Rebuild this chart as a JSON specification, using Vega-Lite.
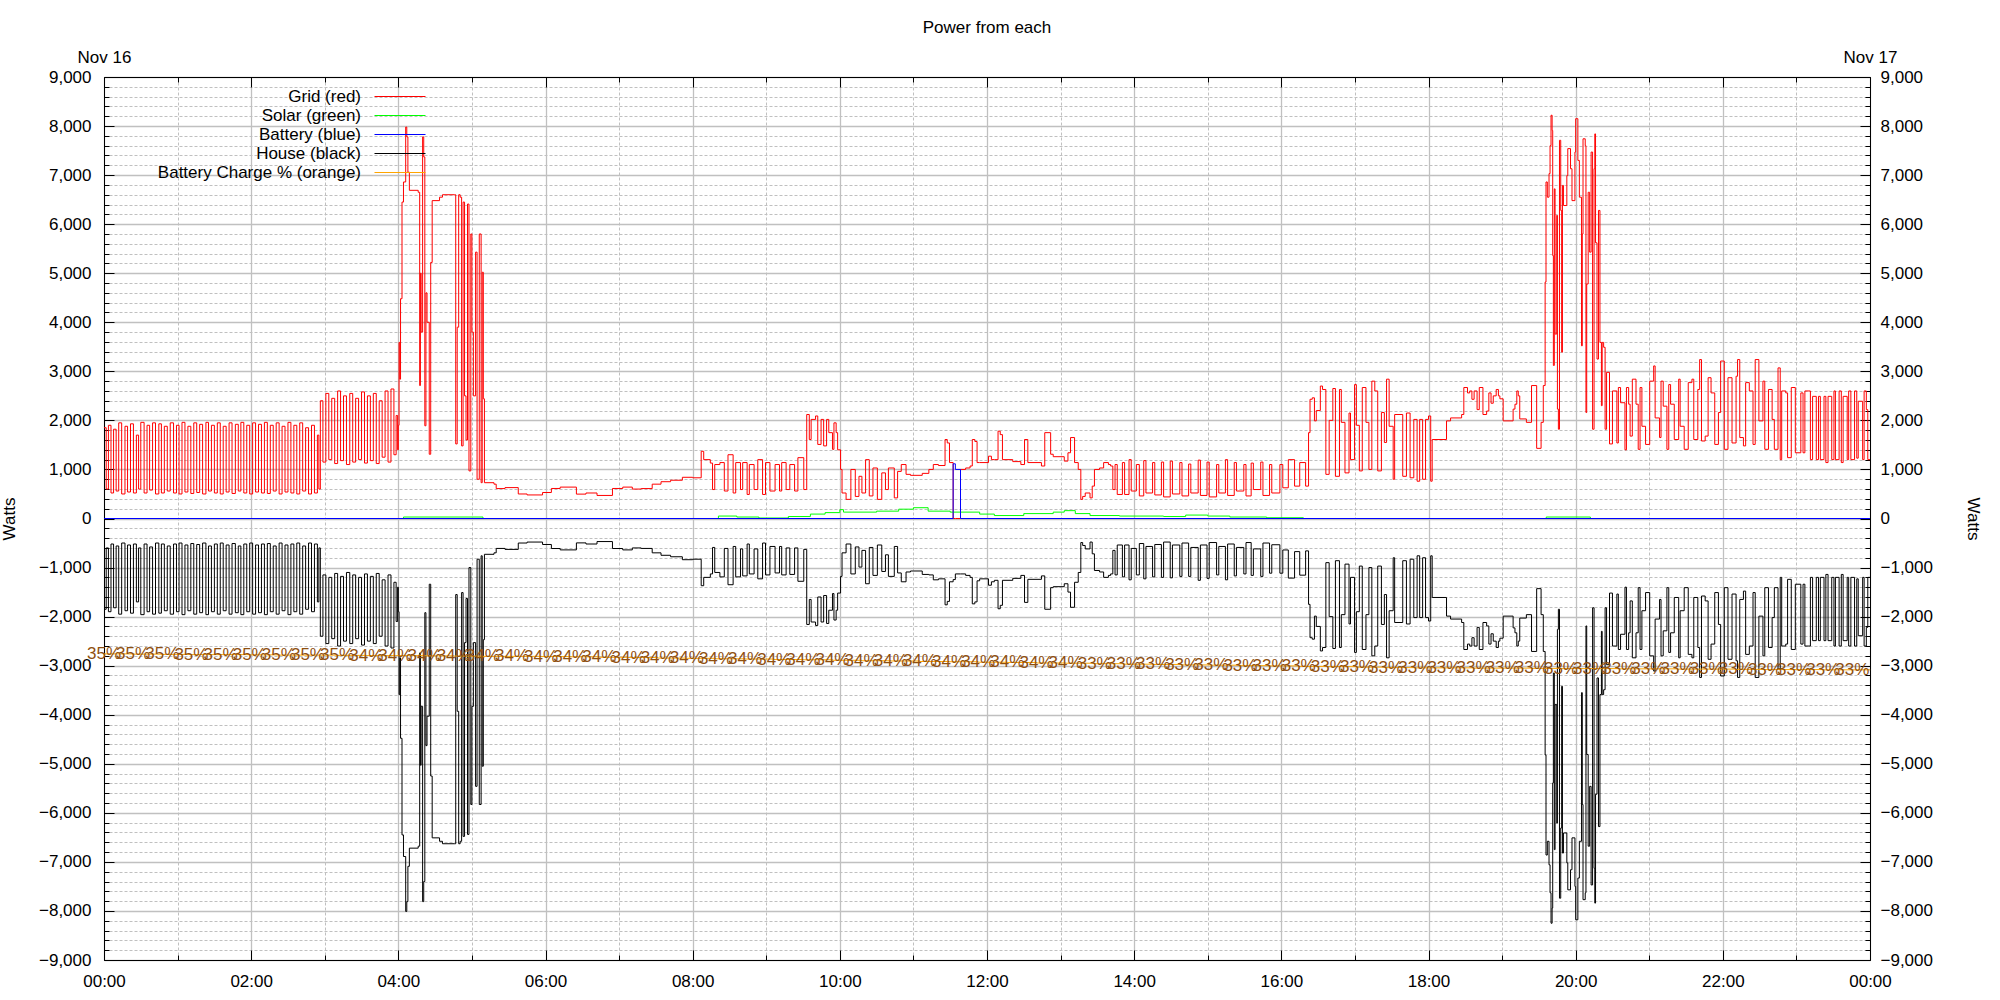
{
"$schema":"https://vega.github.io/schema/vega-lite/v6.json",
"width":1766,"height":883,
"autosize":{"type":"none"},
"padding":{"left":104,"top":77,"right":130,"bottom":40},
"background":"white",
"title":{"text":"Power from each","fontSize":17,"fontWeight":"normal","font":"Liberation Sans","anchor":"middle","offset":6,"color":"black"},
"config":{"font":"Liberation Sans","view":{"stroke":null},
 "axis":{"labelFontSize":17,"labelFont":"Liberation Sans","labelColor":"black","tickColor":"black","domainColor":"black","domainWidth":1,"labelOverlap":false,"labelBound":false,"labelFlush":false,"titleFontSize":17,"titleFontWeight":"normal","titleFont":"Liberation Sans","titleColor":"black"}},
"datasets":{
"p":[
{"t":0,"g":1850,"h":-1850},{"t":0.03,"g":600,"h":-600},{"t":0.06,"g":1900,"h":-1900},{"t":0.095,"g":520,"h":-520},{"t":0.13,"g":1820,"h":-1820},{"t":0.165,"g":560,"h":-560},{"t":0.2,"g":1950,"h":-1950},{"t":0.24,"g":500,"h":-500},{"t":0.285,"g":1880,"h":-1880},{"t":0.32,"g":540,"h":-540},{"t":0.36,"g":1930,"h":-1930},{"t":0.4,"g":520,"h":-520},{"t":0.44,"g":1700,"h":-1700},{"t":0.47,"g":600,"h":-600},{"t":0.5,"g":1960,"h":-1960},{"t":0.545,"g":520,"h":-520},{"t":0.585,"g":1900,"h":-1900},{"t":0.62,"g":580,"h":-580},{"t":0.66,"g":1950,"h":-1950},{"t":0.7,"g":500,"h":-500},{"t":0.745,"g":1930,"h":-1930},{"t":0.78,"g":520,"h":-520},{"t":0.82,"g":1880,"h":-1880},{"t":0.86,"g":560,"h":-560},{"t":0.9,"g":1950,"h":-1950},{"t":0.945,"g":520,"h":-520},{"t":0.985,"g":1900,"h":-1900},{"t":1.02,"g":500,"h":-500},{"t":1.06,"g":1960,"h":-1960},{"t":1.1,"g":540,"h":-540},{"t":1.14,"g":1880,"h":-1880},{"t":1.18,"g":510,"h":-510},{"t":1.22,"g":1950,"h":-1950},{"t":1.26,"g":530,"h":-530},{"t":1.3,"g":1920,"h":-1920},{"t":1.34,"g":500,"h":-500},{"t":1.385,"g":1960,"h":-1960},{"t":1.42,"g":560,"h":-560},{"t":1.46,"g":1900,"h":-1900},{"t":1.5,"g":520,"h":-520},{"t":1.54,"g":1950,"h":-1950},{"t":1.58,"g":500,"h":-500},{"t":1.62,"g":1880,"h":-1880},{"t":1.66,"g":540,"h":-540},{"t":1.7,"g":1950,"h":-1950},{"t":1.74,"g":510,"h":-510},{"t":1.785,"g":1920,"h":-1920},{"t":1.825,"g":560,"h":-560},{"t":1.86,"g":1960,"h":-1960},{"t":1.9,"g":520,"h":-520},{"t":1.94,"g":1900,"h":-1900},{"t":1.98,"g":500,"h":-500},{"t":2.02,"g":1950,"h":-1950},{"t":2.06,"g":540,"h":-540},{"t":2.1,"g":1920,"h":-1920},{"t":2.14,"g":520,"h":-520},{"t":2.18,"g":1960,"h":-1960},{"t":2.22,"g":510,"h":-510},{"t":2.26,"g":1900,"h":-1900},{"t":2.3,"g":560,"h":-560},{"t":2.34,"g":1950,"h":-1950},{"t":2.38,"g":500,"h":-500},{"t":2.42,"g":1880,"h":-1880},{"t":2.46,"g":540,"h":-540},{"t":2.5,"g":1960,"h":-1960},{"t":2.54,"g":520,"h":-520},{"t":2.58,"g":1900,"h":-1900},{"t":2.62,"g":500,"h":-500},{"t":2.66,"g":1950,"h":-1950},{"t":2.7,"g":560,"h":-560},{"t":2.74,"g":1850,"h":-1850},{"t":2.78,"g":500,"h":-500},{"t":2.82,"g":1900,"h":-1900},{"t":2.86,"g":520,"h":-520},{"t":2.9,"g":1700,"h":-1700},{"t":2.92,"g":600,"h":-600},
{"t":2.94,"g":2400,"h":-2400},{"t":2.975,"g":1150,"h":-1150},{"t":3.015,"g":2550,"h":-2550},{"t":3.055,"g":1200,"h":-1200},{"t":3.095,"g":2450,"h":-2450},{"t":3.135,"g":1120,"h":-1120},{"t":3.175,"g":2600,"h":-2600},{"t":3.215,"g":1180,"h":-1180},{"t":3.255,"g":2500,"h":-2500},{"t":3.295,"g":1100,"h":-1100},{"t":3.34,"g":2550,"h":-2550},{"t":3.38,"g":1150,"h":-1150},{"t":3.42,"g":2450,"h":-2450},{"t":3.46,"g":1200,"h":-1200},{"t":3.5,"g":2580,"h":-2580},{"t":3.54,"g":1130,"h":-1130},{"t":3.58,"g":2500,"h":-2500},{"t":3.62,"g":1180,"h":-1180},{"t":3.66,"g":2550,"h":-2550},{"t":3.7,"g":1120,"h":-1120},{"t":3.74,"g":2400,"h":-2400},{"t":3.78,"g":1250,"h":-1250},{"t":3.82,"g":2600,"h":-2600},{"t":3.86,"g":1150,"h":-1150},{"t":3.9,"g":2640,"h":-2640},{"t":3.94,"g":1300,"h":-1300},{"t":3.97,"g":2100,"h":-2100},{"t":3.99,"g":1400,"h":-1400},
{"t":4.0,"g":1900,"h":-1900},{"t":4.01,"g":3590,"h":-3590},{"t":4.02,"g":2840,"h":-2840},{"t":4.03,"g":4480,"h":-4480},{"t":4.05,"g":6450,"h":-6450},{"t":4.07,"g":6860,"h":-6890},{"t":4.1,"g":7980,"h":-8010},{"t":4.115,"g":7780,"h":-7810},{"t":4.13,"g":7060,"h":-7090},{"t":4.15,"g":6690,"h":-6720},{"t":4.27,"g":6650,"h":-6680},{"t":4.29,"g":2710,"h":-2740},{"t":4.3,"g":5000,"h":-5030},{"t":4.31,"g":3800,"h":-3830},{"t":4.33,"g":7780,"h":-7810},{"t":4.345,"g":7370,"h":-7400},{"t":4.36,"g":1890,"h":-1920},{"t":4.375,"g":4600,"h":-4630},{"t":4.39,"g":4000,"h":-4030},{"t":4.42,"g":1310,"h":-1340},{"t":4.44,"g":5220,"h":-5250},{"t":4.46,"g":6480,"h":-6510},{"t":4.56,"g":6550,"h":-6580},{"t":4.6,"g":6600,"h":-6630},{"t":4.76,"g":6600,"h":-6630},{"t":4.78,"g":1520,"h":-1550},{"t":4.8,"g":3900,"h":-3930},{"t":4.82,"g":6600,"h":-6630},{"t":4.84,"g":6550,"h":-6580},{"t":4.86,"g":1480,"h":-1510},{"t":4.88,"g":6450,"h":-6480},{"t":4.9,"g":2500,"h":-2530},{"t":4.92,"g":1600,"h":-1630},{"t":4.94,"g":6410,"h":-6440},{"t":4.96,"g":970,"h":-1000},{"t":4.985,"g":5800,"h":-5830},{"t":5.0,"g":3800,"h":-3830},{"t":5.02,"g":2500,"h":-2530},{"t":5.05,"g":5430,"h":-5460},{"t":5.07,"g":800,"h":-830},{"t":5.1,"g":5800,"h":-5830},{"t":5.125,"g":730,"h":-760},{"t":5.14,"g":5020,"h":-5050},{"t":5.155,"g":2440,"h":-2470},{"t":5.17,"g":730,"h":-730},
{"t":5.3,"g":700,"h":-700},{"t":5.33,"g":610,"h":-610},{"t":5.45,"g":630,"h":-630},{"t":5.63,"g":500,"h":-500},{"t":5.75,"g":480,"h":-480},{"t":5.96,"g":530,"h":-530},{"t":6.08,"g":612,"h":-612},{"t":6.2,"g":640,"h":-640},{"t":6.42,"g":497,"h":-497},{"t":6.55,"g":520,"h":-520},{"t":6.7,"g":470,"h":-470},{"t":6.91,"g":612,"h":-612},{"t":7.05,"g":640,"h":-640},{"t":7.18,"g":600,"h":-600},{"t":7.3,"g":610,"h":-610},{"t":7.45,"g":700,"h":-700},{"t":7.57,"g":750,"h":-750},{"t":7.7,"g":780,"h":-780},{"t":7.86,"g":840,"h":-840},{"t":8.0,"g":830,"h":-830},
{"t":8.116,"g":1370,"h":-1370},{"t":8.15,"g":1200,"h":-1200},{"t":8.24,"g":1130,"h":-1130},{"t":8.27,"g":590,"h":-590},{"t":8.3,"g":1100,"h":-1100},{"t":8.37,"g":1140,"h":-1190},{"t":8.43,"g":560,"h":-610},{"t":8.48,"g":1300,"h":-1350},{"t":8.55,"g":520,"h":-570},{"t":8.585,"g":1140,"h":-1190},{"t":8.65,"g":590,"h":-620},{"t":8.68,"g":1140,"h":-1170},{"t":8.74,"g":490,"h":-520},{"t":8.77,"g":1100,"h":-1130},{"t":8.835,"g":590,"h":-620},{"t":8.885,"g":1200,"h":-1230},{"t":8.95,"g":490,"h":-500},{"t":8.99,"g":1140,"h":-1150},{"t":9.05,"g":560,"h":-570},{"t":9.12,"g":1100,"h":-1110},{"t":9.18,"g":560,"h":-570},{"t":9.21,"g":1140,"h":-1150},{"t":9.27,"g":590,"h":-600},{"t":9.32,"g":1100,"h":-1140},{"t":9.385,"g":560,"h":-600},{"t":9.43,"g":1240,"h":-1280},{"t":9.51,"g":590,"h":-630},
{"t":9.55,"g":2120,"h":-2160},{"t":9.585,"g":1610,"h":-1650},{"t":9.61,"g":2020,"h":-2110},{"t":9.67,"g":2090,"h":-2180},{"t":9.7,"g":1510,"h":-1600},{"t":9.745,"g":2020,"h":-2110},{"t":9.78,"g":1480,"h":-1570},{"t":9.82,"g":2020,"h":-2140},{"t":9.85,"g":1750,"h":-1870},{"t":9.9,"g":1410,"h":-1530},{"t":9.92,"g":1950,"h":-2070},{"t":9.95,"g":1750,"h":-1870},{"t":9.97,"g":1400,"h":-1520},
{"t":10.01,"g":1000,"h":-1180},{"t":10.03,"g":520,"h":-700},{"t":10.085,"g":390,"h":-520},{"t":10.15,"g":1000,"h":-1130},{"t":10.21,"g":450,"h":-580},{"t":10.26,"g":860,"h":-990},{"t":10.3,"g":520,"h":-650},{"t":10.35,"g":1200,"h":-1330},{"t":10.4,"g":460,"h":-590},{"t":10.45,"g":1030,"h":-1160},{"t":10.51,"g":390,"h":-540},{"t":10.57,"g":930,"h":-1080},{"t":10.62,"g":590,"h":-740},{"t":10.66,"g":1030,"h":-1180},{"t":10.74,"g":420,"h":-570},{"t":10.785,"g":960,"h":-1110},{"t":10.835,"g":1100,"h":-1290},{"t":10.9,"g":900,"h":-1090},{"t":10.96,"g":880,"h":-1070},{"t":11.12,"g":920,"h":-1140},{"t":11.21,"g":1000,"h":-1150},{"t":11.27,"g":1100,"h":-1250},{"t":11.34,"g":1080,"h":-1230},{"t":11.43,"g":1610,"h":-1760},{"t":11.46,"g":1540,"h":-1690},{"t":11.49,"g":1140,"h":-1290},{"t":11.54,"g":0,"h":-1245},{"t":11.57,"g":0,"h":-1130},{"t":11.64,"g":1000,"h":-1130},{"t":11.71,"g":1030,"h":-1160},{"t":11.77,"g":1070,"h":-1200},{"t":11.8,"g":1610,"h":-1740},{"t":11.835,"g":1570,"h":-1700},{"t":11.865,"g":1140,"h":-1270},{"t":11.9,"g":1140,"h":-1230},{"t":12.02,"g":1270,"h":-1360},{"t":12.06,"g":1200,"h":-1290},{"t":12.1,"g":1200,"h":-1260},{"t":12.15,"g":1780,"h":-1840},{"t":12.18,"g":1710,"h":-1770},{"t":12.21,"g":1200,"h":-1260},{"t":12.35,"g":1160,"h":-1220},{"t":12.46,"g":1100,"h":-1160},{"t":12.51,"g":1610,"h":-1710},{"t":12.555,"g":1140,"h":-1240},{"t":12.74,"g":1070,"h":-1170},{"t":12.785,"g":1750,"h":-1850},{"t":12.865,"g":1310,"h":-1410},{"t":12.9,"g":1260,"h":-1390},{"t":13.05,"g":1170,"h":-1330},{"t":13.1,"g":1340,"h":-1500},{"t":13.135,"g":1650,"h":-1810},{"t":13.19,"g":1140,"h":-1300},{"t":13.24,"g":1000,"h":-1100},{"t":13.275,"g":390,"h":-490},{"t":13.3,"g":450,"h":-550},{"t":13.335,"g":520,"h":-620},{"t":13.4,"g":420,"h":-480},{"t":13.43,"g":660,"h":-720},{"t":13.46,"g":1000,"h":-1060},{"t":13.53,"g":1030,"h":-1090},{"t":13.585,"g":1140,"h":-1200},{"t":13.65,"g":1100,"h":-1160},{"t":13.68,"g":1070,"h":-1130},{"t":13.71,"g":590,"h":-650},
{"t":13.74,"g":1100,"h":-1150},{"t":13.77,"g":490,"h":-540},{"t":13.84,"g":1140,"h":-1190},{"t":13.87,"g":490,"h":-540},{"t":13.93,"g":1200,"h":-1250},{"t":13.96,"g":560,"h":-610},{"t":14.03,"g":1100,"h":-1150},{"t":14.07,"g":460,"h":-510},{"t":14.13,"g":1180,"h":-1230},{"t":14.16,"g":520,"h":-570},{"t":14.25,"g":1140,"h":-1190},{"t":14.28,"g":480,"h":-530},{"t":14.37,"g":1150,"h":-1200},{"t":14.4,"g":440,"h":-480},{"t":14.49,"g":1170,"h":-1210},{"t":14.52,"g":500,"h":-540},{"t":14.62,"g":1140,"h":-1180},{"t":14.65,"g":460,"h":-500},{"t":14.74,"g":1110,"h":-1180},{"t":14.77,"g":520,"h":-590},{"t":14.87,"g":1190,"h":-1260},{"t":14.9,"g":470,"h":-540},{"t":14.99,"g":1150,"h":-1220},{"t":15.02,"g":440,"h":-490},{"t":15.12,"g":1100,"h":-1150},{"t":15.15,"g":520,"h":-570},{"t":15.24,"g":1200,"h":-1250},{"t":15.27,"g":470,"h":-520},{"t":15.36,"g":1140,"h":-1170},{"t":15.39,"g":560,"h":-590},{"t":15.49,"g":1100,"h":-1130},{"t":15.52,"g":460,"h":-490},{"t":15.59,"g":1130,"h":-1160},{"t":15.62,"g":590,"h":-620},{"t":15.72,"g":1150,"h":-1180},{"t":15.75,"g":470,"h":-500},{"t":15.84,"g":1100,"h":-1115},{"t":15.87,"g":520,"h":-535},{"t":15.98,"g":1100,"h":-1115},{"t":16.02,"g":626,"h":-641},{"t":16.095,"g":1200,"h":-1215},{"t":16.18,"g":660,"h":-675},{"t":16.25,"g":1140,"h":-1155},{"t":16.33,"g":660,"h":-660},
{"t":16.37,"g":1750,"h":-1750},{"t":16.39,"g":2430,"h":-2430},{"t":16.42,"g":2460,"h":-2460},{"t":16.45,"g":1990,"h":-1990},{"t":16.475,"g":2200,"h":-2200},{"t":16.53,"g":2700,"h":-2700},{"t":16.56,"g":2630,"h":-2630},{"t":16.605,"g":900,"h":-900},{"t":16.65,"g":2000,"h":-2000},{"t":16.7,"g":2650,"h":-2650},{"t":16.735,"g":860,"h":-860},{"t":16.79,"g":2630,"h":-2630},{"t":16.815,"g":1960,"h":-1960},{"t":16.865,"g":930,"h":-930},{"t":16.92,"g":2150,"h":-2150},{"t":16.94,"g":1200,"h":-1200},{"t":16.995,"g":2730,"h":-2730},{"t":17.02,"g":1900,"h":-1900},{"t":17.06,"g":970,"h":-970},{"t":17.1,"g":2670,"h":-2670},{"t":17.15,"g":1960,"h":-1960},{"t":17.19,"g":1000,"h":-1000},{"t":17.23,"g":2800,"h":-2800},{"t":17.27,"g":2600,"h":-2600},{"t":17.31,"g":970,"h":-970},{"t":17.36,"g":2160,"h":-2160},{"t":17.4,"g":1550,"h":-1550},{"t":17.43,"g":2840,"h":-2840},{"t":17.465,"g":1880,"h":-1880},{"t":17.52,"g":800,"h":-800},{"t":17.54,"g":2120,"h":-2120},{"t":17.65,"g":860,"h":-860},{"t":17.7,"g":2150,"h":-2150},{"t":17.75,"g":830,"h":-830},{"t":17.8,"g":2020,"h":-2020},{"t":17.845,"g":760,"h":-760},{"t":17.88,"g":2020,"h":-2020},{"t":17.92,"g":800,"h":-800},{"t":17.96,"g":2020,"h":-2020},{"t":18.0,"g":2090,"h":-2090},{"t":18.03,"g":760,"h":-760},
{"t":18.05,"g":1610,"h":-1610},{"t":18.245,"g":1990,"h":-1990},{"t":18.3,"g":2050,"h":-2050},{"t":18.45,"g":2120,"h":-2120},{"t":18.48,"g":2670,"h":-2670},{"t":18.53,"g":2560,"h":-2560},{"t":18.56,"g":2600,"h":-2600},{"t":18.59,"g":2430,"h":-2430},{"t":18.62,"g":2600,"h":-2600},{"t":18.66,"g":2220,"h":-2220},{"t":18.69,"g":2670,"h":-2670},{"t":18.74,"g":2120,"h":-2120},{"t":18.79,"g":2190,"h":-2190},{"t":18.82,"g":2560,"h":-2560},{"t":18.85,"g":2350,"h":-2350},{"t":18.88,"g":2500,"h":-2500},{"t":18.92,"g":2630,"h":-2630},{"t":18.95,"g":2500,"h":-2500},{"t":18.97,"g":2440,"h":-2440},{"t":19.015,"g":1990,"h":-1990},{"t":19.15,"g":2230,"h":-2230},{"t":19.175,"g":2330,"h":-2330},{"t":19.2,"g":2600,"h":-2600},{"t":19.22,"g":2500,"h":-2500},{"t":19.24,"g":2030,"h":-2030},{"t":19.33,"g":1960,"h":-1960},{"t":19.4,"g":2710,"h":-2710},{"t":19.47,"g":1430,"h":-1430},{"t":19.53,"g":1960,"h":-1960},{"t":19.56,"g":2710,"h":-2710},
{"t":19.585,"g":4820,"h":-4820},{"t":19.597,"g":6860,"h":-6860},{"t":19.615,"g":6550,"h":-6580},{"t":19.638,"g":7030,"h":-7060},{"t":19.652,"g":7600,"h":-7630},{"t":19.665,"g":8220,"h":-8250},{"t":19.68,"g":7910,"h":-7940},{"t":19.688,"g":5360,"h":-5390},{"t":19.697,"g":3120,"h":-3150},{"t":19.71,"g":6720,"h":-6750},{"t":19.72,"g":3760,"h":-3790},{"t":19.743,"g":6180,"h":-6210},{"t":19.752,"g":2230,"h":-2260},{"t":19.765,"g":1820,"h":-1850},{"t":19.78,"g":7710,"h":-7740},{"t":19.797,"g":6280,"h":-6310},{"t":19.81,"g":3390,"h":-3420},{"t":19.82,"g":6790,"h":-6820},{"t":19.834,"g":6380,"h":-6410},{"t":19.88,"g":6990,"h":-7020},{"t":19.893,"g":7540,"h":-7570},{"t":19.93,"g":7130,"h":-7160},{"t":19.95,"g":6480,"h":-6510},{"t":19.99,"g":7470,"h":-7500},{"t":20.0,"g":8150,"h":-8180},{"t":20.03,"g":7300,"h":-7330},{"t":20.05,"g":6550,"h":-6580},{"t":20.08,"g":3520,"h":-3550},{"t":20.09,"g":5800,"h":-5830},{"t":20.1,"g":7740,"h":-7770},{"t":20.13,"g":7600,"h":-7630},{"t":20.14,"g":2160,"h":-2190},{"t":20.15,"g":4780,"h":-4810},{"t":20.17,"g":6650,"h":-6680},{"t":20.19,"g":5430,"h":-5460},{"t":20.21,"g":7470,"h":-7470},{"t":20.23,"g":1820,"h":-1820},{"t":20.25,"g":7130,"h":-7130},{"t":20.26,"g":7840,"h":-7840},{"t":20.27,"g":5620,"h":-5620},{"t":20.29,"g":3250,"h":-3250},{"t":20.31,"g":6280,"h":-6280},{"t":20.33,"g":3590,"h":-3590},{"t":20.35,"g":2300,"h":-2300},{"t":20.36,"g":3590,"h":-3590},{"t":20.38,"g":3490,"h":-3490},{"t":20.4,"g":1820,"h":-1820},{"t":20.42,"g":2980,"h":-2980},{"t":20.46,"g":1520,"h":-1520},{"t":20.5,"g":2600,"h":-2600},
{"t":20.56,"g":1540,"h":-1540},{"t":20.58,"g":2670,"h":-2670},{"t":20.61,"g":2360,"h":-2360},{"t":20.67,"g":1400,"h":-1400},{"t":20.69,"g":2670,"h":-2670},{"t":20.72,"g":2330,"h":-2330},{"t":20.74,"g":1680,"h":-1680},{"t":20.77,"g":2840,"h":-2840},{"t":20.82,"g":2330,"h":-2330},{"t":20.85,"g":1410,"h":-1410},{"t":20.875,"g":2670,"h":-2670},{"t":20.9,"g":1880,"h":-1880},{"t":20.95,"g":1510,"h":-1510},{"t":21.006,"g":2800,"h":-2800},{"t":21.06,"g":3110,"h":-3110},{"t":21.08,"g":2050,"h":-2050},{"t":21.14,"g":1650,"h":-1650},{"t":21.16,"g":2800,"h":-2800},{"t":21.19,"g":2290,"h":-2290},{"t":21.24,"g":1410,"h":-1410},{"t":21.265,"g":2730,"h":-2730},{"t":21.29,"g":2330,"h":-2330},{"t":21.34,"g":1610,"h":-1610},{"t":21.4,"g":2840,"h":-2840},{"t":21.42,"g":1880,"h":-1880},{"t":21.475,"g":1410,"h":-1410},{"t":21.53,"g":2770,"h":-2770},{"t":21.58,"g":2840,"h":-2840},{"t":21.605,"g":1610,"h":-1610},{"t":21.66,"g":2630,"h":-2630},{"t":21.685,"g":3240,"h":-3240},{"t":21.71,"g":1580,"h":-1580},{"t":21.76,"g":1680,"h":-1680},{"t":21.8,"g":2870,"h":-2870},{"t":21.84,"g":2560,"h":-2560},{"t":21.89,"g":1510,"h":-1510},{"t":21.94,"g":2160,"h":-2160},{"t":21.97,"g":3210,"h":-3210},{"t":22.02,"g":1410,"h":-1410},{"t":22.07,"g":2870,"h":-2870},{"t":22.125,"g":1540,"h":-1540},{"t":22.18,"g":2900,"h":-2900},{"t":22.2,"g":3240,"h":-3240},{"t":22.23,"g":1650,"h":-1650},{"t":22.28,"g":1480,"h":-1480},{"t":22.31,"g":2770,"h":-2770},{"t":22.36,"g":2600,"h":-2600},{"t":22.41,"g":1510,"h":-1510},{"t":22.44,"g":3240,"h":-3240},{"t":22.49,"g":1990,"h":-1990},{"t":22.545,"g":2800,"h":-2800},{"t":22.57,"g":1410,"h":-1410},{"t":22.62,"g":2630,"h":-2630},{"t":22.67,"g":2020,"h":-2020},{"t":22.7,"g":1410,"h":-1410},{"t":22.75,"g":3070,"h":-3070},{"t":22.78,"g":1200,"h":-1200},{"t":22.8,"g":2600,"h":-2600},{"t":22.855,"g":2560,"h":-2560},{"t":22.88,"g":1240,"h":-1240},{"t":22.93,"g":2670,"h":-2670},{"t":22.985,"g":1340,"h":-1340},{"t":23.06,"g":2560,"h":-2560},{"t":23.09,"g":1340,"h":-1340},{"t":23.115,"g":2600,"h":-2600},{"t":23.17,"g":2600,"h":-2600},{"t":23.19,"g":1200,"h":-1200},{"t":23.22,"g":2490,"h":-2490},{"t":23.27,"g":1200,"h":-1200},{"t":23.3,"g":2490,"h":-2490},{"t":23.325,"g":1200,"h":-1200},{"t":23.375,"g":2490,"h":-2490},{"t":23.4,"g":1140,"h":-1140},{"t":23.43,"g":2490,"h":-2490},{"t":23.48,"g":1200,"h":-1200},{"t":23.51,"g":2600,"h":-2600},{"t":23.53,"g":1200,"h":-1200},{"t":23.58,"g":2600,"h":-2600},{"t":23.61,"g":1140,"h":-1140},{"t":23.635,"g":2490,"h":-2490},{"t":23.69,"g":1200,"h":-1200},{"t":23.71,"g":2600,"h":-2600},{"t":23.74,"g":1200,"h":-1200},{"t":23.79,"g":2600,"h":-2600},{"t":23.82,"g":1230,"h":-1230},{"t":23.84,"g":2390,"h":-2390},{"t":23.9,"g":1200,"h":-1200},{"t":23.92,"g":2600,"h":-2600},{"t":23.95,"g":2220,"h":-2220},{"t":23.97,"g":1200,"h":-1200},{"t":24,"g":1200,"h":-1200}
],
"solar":[{"t":0,"v":0},{"t":4.07,"v":30},{"t":5.15,"v":0},{"t":8.35,"v":50},{"t":8.6,"v":30},{"t":8.9,"v":10},{"t":9.3,"v":40},{"t":9.6,"v":90},{"t":9.8,"v":120},{"t":10.0,"v":180},{"t":10.05,"v":130},{"t":10.5,"v":150},{"t":10.8,"v":190},{"t":11.0,"v":220},{"t":11.2,"v":150},{"t":11.5,"v":130},{"t":11.9,"v":90},{"t":12.1,"v":60},{"t":12.5,"v":100},{"t":12.9,"v":130},{"t":13.05,"v":160},{"t":13.2,"v":100},{"t":13.4,"v":60},{"t":13.8,"v":50},{"t":14.4,"v":40},{"t":14.7,"v":70},{"t":15.0,"v":50},{"t":15.3,"v":30},{"t":15.8,"v":15},{"t":16.3,"v":0},{"t":19.6,"v":30},{"t":20.2,"v":0},{"t":24,"v":0}],
"battery":[{"t":0,"v":0},{"t":11.54,"v":1115},{"t":11.57,"v":1000},{"t":11.64,"v":0},{"t":24,"v":0}],
"charge":[{"t":0,"v":-2760,"l":"35%"},{"t":0.396,"v":-2765,"l":"35%"},{"t":0.792,"v":-2770,"l":"35%"},{"t":1.188,"v":-2775,"l":"35%"},{"t":1.584,"v":-2775,"l":"35%"},{"t":1.98,"v":-2780,"l":"35%"},{"t":2.376,"v":-2785,"l":"35%"},{"t":2.772,"v":-2785,"l":"35%"},{"t":3.168,"v":-2790,"l":"35%"},{"t":3.564,"v":-2795,"l":"34%"},{"t":3.96,"v":-2795,"l":"34%"},{"t":4.356,"v":-2800,"l":"34%"},{"t":4.752,"v":-2805,"l":"34%"},{"t":5.148,"v":-2810,"l":"34%"},{"t":5.544,"v":-2810,"l":"34%"},{"t":5.94,"v":-2815,"l":"34%"},{"t":6.336,"v":-2820,"l":"34%"},{"t":6.732,"v":-2830,"l":"34%"},{"t":7.128,"v":-2835,"l":"34%"},{"t":7.524,"v":-2845,"l":"34%"},{"t":7.92,"v":-2850,"l":"34%"},{"t":8.316,"v":-2860,"l":"34%"},{"t":8.712,"v":-2865,"l":"34%"},{"t":9.108,"v":-2875,"l":"34%"},{"t":9.504,"v":-2880,"l":"34%"},{"t":9.9,"v":-2890,"l":"34%"},{"t":10.296,"v":-2900,"l":"34%"},{"t":10.692,"v":-2905,"l":"34%"},{"t":11.088,"v":-2915,"l":"34%"},{"t":11.484,"v":-2920,"l":"34%"},{"t":11.88,"v":-2930,"l":"34%"},{"t":12.276,"v":-2935,"l":"34%"},{"t":12.672,"v":-2945,"l":"34%"},{"t":13.068,"v":-2950,"l":"34%"},{"t":13.464,"v":-2960,"l":"33%"},{"t":13.86,"v":-2970,"l":"33%"},{"t":14.256,"v":-2975,"l":"33%"},{"t":14.652,"v":-2985,"l":"33%"},{"t":15.048,"v":-2990,"l":"33%"},{"t":15.444,"v":-3000,"l":"33%"},{"t":15.84,"v":-3005,"l":"33%"},{"t":16.236,"v":-3015,"l":"33%"},{"t":16.632,"v":-3020,"l":"33%"},{"t":17.028,"v":-3030,"l":"33%"},{"t":17.424,"v":-3040,"l":"33%"},{"t":17.82,"v":-3045,"l":"33%"},{"t":18.216,"v":-3045,"l":"33%"},{"t":18.612,"v":-3050,"l":"33%"},{"t":19.008,"v":-3050,"l":"33%"},{"t":19.404,"v":-3055,"l":"33%"},{"t":19.8,"v":-3060,"l":"33%"},{"t":20.196,"v":-3060,"l":"33%"},{"t":20.592,"v":-3065,"l":"33%"},{"t":20.988,"v":-3065,"l":"33%"},{"t":21.384,"v":-3070,"l":"33%"},{"t":21.78,"v":-3070,"l":"33%"},{"t":22.176,"v":-3075,"l":"33%"},{"t":22.572,"v":-3080,"l":"33%"},{"t":22.968,"v":-3080,"l":"33%"},{"t":23.364,"v":-3085,"l":"33%"},{"t":23.76,"v":-3085,"l":"33%"},{"t":24,"v":-3090,"l":""}]
},
"resolve":{"axis":{"x":"independent","y":"independent"}},
"layer":[
{"data":{"name":"p"},"mark":{"type":"line","interpolate":"step-after","strokeWidth":1},
 "encoding":{
  "x":{"field":"t","type":"quantitative","scale":{"domain":[0,24],"nice":false,"zero":false},
   "axis":{"orient":"bottom","title":null,"values":[0,1,2,3,4,5,6,7,8,9,10,11,12,13,14,15,16,17,18,19,20,21,22,23,24],
    "labelExpr":"datum.value % 2 == 0 ? ((datum.value % 24) < 10 ? '0' : '') + (datum.value % 24) + ':00' : ''",
    "tickSize":{"condition":{"test":"datum.value % 2 == 0","value":-10},"value":-5},
    "labelPadding":23,
    "grid":true,"gridColor":"#c0c0c0",
    "gridDash":{"condition":{"test":"datum.value % 2 == 1","value":[3,2]},"value":[]},
    "gridWidth":{"condition":{"test":"datum.value % 2 == 1","value":1},"value":1.3}}},
  "y":{"field":"g","type":"quantitative","scale":{"domain":[-9000,9000],"nice":false,"zero":false},
   "axis":{"orient":"left","title":"Watts","titlePadding":20,"values":[-9000,-8800,-8600,-8400,-8200,-8000,-7800,-7600,-7400,-7200,-7000,-6800,-6600,-6400,-6200,-6000,-5800,-5600,-5400,-5200,-5000,-4800,-4600,-4400,-4200,-4000,-3800,-3600,-3400,-3200,-3000,-2800,-2600,-2400,-2200,-2000,-1800,-1600,-1400,-1200,-1000,-800,-600,-400,-200,0,200,400,600,800,1000,1200,1400,1600,1800,2000,2200,2400,2600,2800,3000,3200,3400,3600,3800,4000,4200,4400,4600,4800,5000,5200,5400,5600,5800,6000,6200,6400,6600,6800,7000,7200,7400,7600,7800,8000,8200,8400,8600,8800,9000],
    "labelExpr":"datum.value % 1000 == 0 ? format(datum.value, ',') : ''",
    "tickSize":{"condition":{"test":"datum.value % 1000 == 0","value":-10},"value":-5},
    "labelPadding":23,
    "grid":true,"gridColor":"#c0c0c0",
    "gridDash":{"condition":{"test":"datum.value % 1000 != 0","value":[3,2]},"value":[]},
    "gridWidth":{"condition":{"test":"datum.value % 1000 != 0","value":1},"value":1.3}}},
  "color":{"datum":"Grid (red)","type":"nominal","scale":{"domain":["Grid (red)","Solar (green)","Battery (blue)","House (black)","Battery Charge % (orange)"],"range":["#ff0000","#00ff00","#0000ff","#000000","#ffa500"]},
   "legend":{"orient":"none","legendX":287,"legendY":10.5,"title":null,"labelAlign":"right","labelOffset":-48,"symbolType":"M-3,0H3","symbolSize":289,"symbolStrokeWidth":1,"labelFontSize":17,"labelFont":"Liberation Sans","labelColor":"black","rowPadding":2,"padding":0,"labelLimit":0}}
 }},
{"data":{"name":"solar"},"mark":{"type":"line","interpolate":"step-after","strokeWidth":1},
 "encoding":{"x":{"field":"t","type":"quantitative","axis":null},"y":{"field":"v","type":"quantitative","axis":null},"color":{"datum":"Solar (green)","type":"nominal"}}},
{"data":{"name":"battery"},"mark":{"type":"line","interpolate":"step-after","strokeWidth":1},
 "encoding":{"x":{"field":"t","type":"quantitative","axis":null},"y":{"field":"v","type":"quantitative","axis":null},"color":{"datum":"Battery (blue)","type":"nominal"}}},
{"data":{"name":"p"},"mark":{"type":"line","interpolate":"step-after","strokeWidth":1},
 "encoding":{
  "x":{"field":"t","type":"quantitative",
   "axis":{"orient":"top","title":null,"values":[0,1,2,3,4,5,6,7,8,9,10,11,12,13,14,15,16,17,18,19,20,21,22,23,24],
    "labelExpr":"datum.value == 0 ? 'Nov 16' : (datum.value == 24 ? 'Nov 17' : '')",
    "tickSize":{"condition":{"test":"datum.value % 2 == 0","value":-10},"value":-5},
    "labelPadding":21,"grid":false}},
  "y":{"field":"h","type":"quantitative",
   "axis":{"orient":"right","title":"Watts","titlePadding":31,"values":[-9000,-8800,-8600,-8400,-8200,-8000,-7800,-7600,-7400,-7200,-7000,-6800,-6600,-6400,-6200,-6000,-5800,-5600,-5400,-5200,-5000,-4800,-4600,-4400,-4200,-4000,-3800,-3600,-3400,-3200,-3000,-2800,-2600,-2400,-2200,-2000,-1800,-1600,-1400,-1200,-1000,-800,-600,-400,-200,0,200,400,600,800,1000,1200,1400,1600,1800,2000,2200,2400,2600,2800,3000,3200,3400,3600,3800,4000,4200,4400,4600,4800,5000,5200,5400,5600,5800,6000,6200,6400,6600,6800,7000,7200,7400,7600,7800,8000,8200,8400,8600,8800,9000],
    "labelExpr":"datum.value % 1000 == 0 ? format(datum.value, ',') : ''",
    "tickSize":{"condition":{"test":"datum.value % 1000 == 0","value":-10},"value":-5},
    "labelPadding":20,"grid":false}},
  "color":{"datum":"House (black)","type":"nominal"}}},
{"data":{"name":"charge"},"mark":{"type":"line","interpolate":"step-after","strokeWidth":1},
 "encoding":{"x":{"field":"t","type":"quantitative","axis":null},"y":{"field":"v","type":"quantitative","axis":null},"color":{"datum":"Battery Charge % (orange)","type":"nominal"}}},
{"data":{"name":"charge"},"mark":{"type":"text","align":"center","baseline":"middle","fontSize":17,"font":"Liberation Sans","color":"#8f4f10"},
 "encoding":{"x":{"field":"t","type":"quantitative","axis":null},"y":{"field":"v","type":"quantitative","axis":null},"text":{"field":"l"}}}
]
}
